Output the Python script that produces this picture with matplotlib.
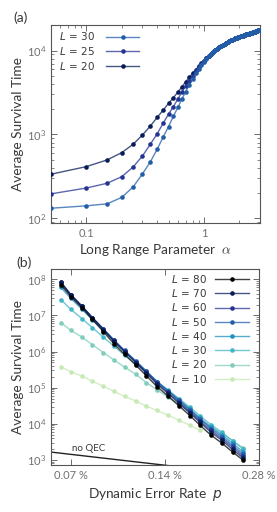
import numpy as np
import matplotlib
matplotlib.use("Agg")
import matplotlib.pyplot as plt
from matplotlib.ticker import FixedLocator, FuncFormatter, LogLocator, NullFormatter, NullLocator

plt.rcParams['font.family'] = ['Lato', 'DejaVu Sans']

# ---------------- data: panel (a) ----------------
alpha = [0.05, 0.10, 0.15, 0.20, 0.25, 0.30, 0.35, 0.40, 0.45, 0.50,
         0.55, 0.60, 0.65, 0.70, 0.75, 0.80, 0.85, 0.90, 0.95, 1.00,
         1.05, 1.10, 1.15, 1.20, 1.25, 1.30, 1.35, 1.40, 1.45, 1.50,
         1.55, 1.60, 1.65, 1.70, 1.75, 1.80, 1.85, 1.90, 1.95, 2.00,
         2.05, 2.10, 2.15, 2.20, 2.25, 2.30, 2.35, 2.40, 2.45, 2.50,
         2.55, 2.60, 2.65, 2.70, 2.75, 2.80, 2.85, 2.90, 2.95, 3.00]

# common tail (alpha >= 1.15) where the three curves coincide
T_tail = [9200, 9700, 10150, 10600, 11000, 11400, 11750, 12100,
          12400, 12700, 13000, 13250, 13500, 13750, 14000, 14200, 14400, 14600,
          14800, 15000, 15150, 15300, 15450, 15600, 15750, 15900, 16050, 16200,
          16350, 16500, 16650, 16800, 16950, 17100, 17250, 17400, 17550, 17700]

T_L20 = [336, 414, 497, 608, 765, 988, 1260, 1600, 1950, 2350,
         2750, 3200, 3700, 4250, 4800, 5350, 5900, 6500, 7050, 7600,
         8150, 8700] + T_tail
T_L25 = [196, 230, 262, 314, 410, 555, 765, 1016, 1365, 1750,
         2150, 2650, 3200, 3800, 4400, 5050, 5700, 6350, 6950, 7500,
         8100, 8650] + T_tail
T_L30 = [132, 141, 149, 178, 237, 339, 471, 667, 929, 1242,
         1650, 2100, 2650, 3250, 3900, 4600, 5350, 6100, 6800, 7400,
         8000, 8600] + T_tail

labels_a = ['$L\\,=\\,30$', '$L\\,=\\,25$', '$L\\,=\\,20$']
colors_a = ['#225ea8', '#253494', '#081d58']

# ---------------- data: panel (b) ----------------
p_rate = [0.065, 0.070, 0.076, 0.082, 0.089, 0.096, 0.104, 0.113, 0.122,
          0.132, 0.143, 0.155, 0.168, 0.181, 0.196, 0.213, 0.230, 0.249]

log10T_L80 = [7.85, 7.52, 7.21, 6.89, 6.55, 6.22, 5.92, 5.62, 5.33, 5.03, 4.77, 4.50, 4.23, 3.96, 3.69, 3.46, 3.22, 2.99]
log10T_L70 = [7.93, 7.58, 7.26, 6.94, 6.61, 6.29, 5.99, 5.69, 5.40, 5.10, 4.84, 4.57, 4.30, 4.04, 3.77, 3.54, 3.29, 3.05]
log10T_L60 = [7.92, 7.57, 7.25, 6.94, 6.62, 6.31, 6.01, 5.71, 5.43, 5.13, 4.87, 4.61, 4.34, 4.08, 3.82, 3.59, 3.35, 3.10]
log10T_L50 = [7.90, 7.56, 7.25, 6.94, 6.63, 6.33, 6.03, 5.74, 5.46, 5.17, 4.91, 4.65, 4.39, 4.13, 3.87, 3.64, 3.40, 3.16]
log10T_L40 = [7.78, 7.47, 7.17, 6.88, 6.58, 6.29, 6.00, 5.72, 5.45, 5.17, 4.92, 4.67, 4.41, 4.16, 3.91, 3.69, 3.46, 3.22]
log10T_L30 = [7.44, 7.17, 6.91, 6.66, 6.40, 6.15, 5.90, 5.66, 5.42, 5.17, 4.94, 4.70, 4.46, 4.22, 3.98, 3.76, 3.53, 3.30]
log10T_L20 = [6.80, 6.59, 6.40, 6.19, 5.97, 5.77, 5.57, 5.37, 5.14, 4.94, 4.74, 4.54, 4.33, 4.13, 3.93, 3.73, 3.53, 3.33]
log10T_L10 = [5.58, 5.44, 5.32, 5.18, 5.04, 4.90, 4.76, 4.63, 4.49, 4.37, 4.24, 4.10, 3.96, 3.82]

sizes_b = [80, 70, 60, 50, 40, 30, 20, 10]
series_b = [log10T_L80, log10T_L70, log10T_L60, log10T_L50,
            log10T_L40, log10T_L30, log10T_L20, log10T_L10]
colors_b = ['#000000', '#081d58', '#253494', '#225ea8',
            '#1d91c0', '#41b6c4', '#7fcdbb', '#c7e9b4']

noqec_p = [0.0605, 0.28]
noqec_T = [1650, 357]

xticks_b = [0.07, 0.14, 0.28]
xticklabels_b = ['0.07 %', '0.14 %', '0.28 %']

# ---------------- figure ----------------
W, H = 277, 512
fig = plt.figure(figsize=(W / 100, H / 100), dpi=100)

def ax_rect(l, t, r, b):
    return [l / W, 1 - b / H, (r - l) / W, (b - t) / H]

axA = fig.add_axes(ax_rect(51, 24.5, 260, 223))
axB = fig.add_axes(ax_rect(51, 268.7, 259.3, 465))

tick_col = '#707070'
lab_col = '#383838'
spine_col = '#555555'

def style(ax):
    for s in ax.spines.values():
        s.set_color(spine_col)
        s.set_linewidth(0.8)
    ax.tick_params(which='both', direction='in', top=True, right=True,
                   colors=spine_col, labelcolor=tick_col, labelsize=8)
    ax.tick_params(which='major', length=4, width=0.6)
    ax.tick_params(which='minor', length=2, width=0.5)

def sci_fmt(v, pos):
    e = int(round(np.log10(v)))
    return r'$\mathregular{10^{%d}}$' % e

def plot_series(ax, x, y, c, lab, z):
    rgb = matplotlib.colors.to_rgb(c)
    ln, = ax.plot(x, y, color=(*rgb, 0.75), lw=1.0, marker='o', ms=3.3,
                  mfc=c, mec=c, mew=0, label=lab, zorder=z)
    return ln

# panel (a)
style(axA)
axA.set_xscale('log')
axA.set_yscale('log')
handles_a = []
for T, c, lab, z in zip([T_L20, T_L25, T_L30], colors_a[::-1], labels_a[::-1], [3, 4, 5]):
    handles_a.append(plot_series(axA, alpha, T, c, lab, z))
axA.set_xlim(0.05, 3.0)
axA.set_ylim(88, 20500)
axA.xaxis.set_major_locator(FixedLocator([0.1, 1]))
axA.xaxis.set_major_formatter(FuncFormatter(lambda v, p: '0.1' if v < 0.5 else '1'))
axA.xaxis.set_minor_locator(LogLocator(base=10, subs=np.arange(2, 10)))
axA.xaxis.set_minor_formatter(NullFormatter())
axA.yaxis.set_major_locator(FixedLocator([1e2, 1e3, 1e4]))
axA.yaxis.set_major_formatter(FuncFormatter(sci_fmt))
axA.yaxis.set_minor_locator(LogLocator(base=10, subs=np.arange(2, 10)))
axA.yaxis.set_minor_formatter(NullFormatter())
axA.set_ylabel('Average Survival Time', fontsize=9.8, color=lab_col, labelpad=2)
axA.set_xlabel(r'Long Range Parameter  $\alpha$', fontsize=9.8, color=lab_col,
               labelpad=2, math_fontfamily='cm')
legA = axA.legend(handles=handles_a[::-1], loc='upper left', bbox_to_anchor=(0.04, 0.97),
                  frameon=False, markerfirst=False, fontsize=7.5, handlelength=3.2,
                  handletextpad=1.0, labelspacing=0.25, borderpad=0, borderaxespad=0)
for t in legA.get_texts():
    t.set_color(lab_col)
fig.text(21 / W, 1 - 18 / H, '(a)', fontsize=10, color=lab_col, ha='center', va='center')

# panel (b)
style(axB)
axB.set_xscale('log')
axB.set_yscale('log')
handles_b = []
for i in range(len(sizes_b) - 1, -1, -1):
    y = [10 ** v for v in series_b[i]]
    h = plot_series(axB, p_rate[:len(y)], y, colors_b[i], '$L\\,=\\,%d$' % sizes_b[i], 3 + (7 - i))
    handles_b.append(h)
axB.plot(noqec_p, noqec_T, color='#222222', lw=1.0, zorder=2)
axB.text(0.0705, 2050, 'no QEC', fontsize=7, color=lab_col, ha='left', va='center')
axB.set_xlim(0.0605, 0.28)
axB.set_ylim(724, 1.97e8)
axB.xaxis.set_major_locator(FixedLocator(xticks_b))
axB.set_xticklabels(xticklabels_b)
axB.xaxis.set_minor_locator(NullLocator())
axB.yaxis.set_major_locator(FixedLocator([1e3, 1e4, 1e5, 1e6, 1e7, 1e8]))
axB.yaxis.set_major_formatter(FuncFormatter(sci_fmt))
axB.yaxis.set_minor_locator(LogLocator(base=10, subs=np.arange(2, 10)))
axB.yaxis.set_minor_formatter(NullFormatter())
axB.set_ylabel('Average Survival Time', fontsize=9.8, color=lab_col, labelpad=2)
axB.set_xlabel(r'Dynamic Error Rate  $p$', fontsize=9.8, color=lab_col, labelpad=4)
legB = axB.legend(handles=handles_b[::-1], loc='upper left', bbox_to_anchor=(0.575, 0.98),
                  frameon=False, markerfirst=False, fontsize=7.5, handlelength=3.2,
                  handletextpad=0.8, labelspacing=0.22, borderpad=0, borderaxespad=0)
for t in legB.get_texts():
    t.set_color(lab_col)
fig.text(24 / W, 1 - 263 / H, '(b)', fontsize=10, color=lab_col, ha='center', va='center')

fig.savefig('out.png', dpi=100)
